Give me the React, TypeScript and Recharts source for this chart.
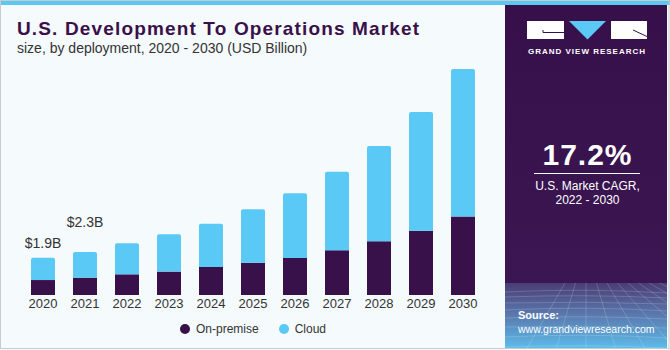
import React from 'react';
import { BarChart, Bar, XAxis, YAxis, LabelList, Legend } from 'recharts';

const years = ['2020', '2021', '2022', '2023', '2024', '2025', '2026', '2027', '2028', '2029', '2030'];
const onPremise = [0.76, 0.88, 1.05, 1.19, 1.43, 1.64, 1.88, 2.28, 2.73, 3.27, 3.99];
const cloud = [1.14, 1.31, 1.58, 1.9, 2.19, 2.72, 3.29, 3.99, 4.85, 6.04, 7.5];
const totalLabels = ['$1.9B', '$2.3B', '', '', '', '', '', '', '', '', ''];
const seriesNames = ['On-premise', 'Cloud'];

const FONT = '"Liberation Sans", Arial, sans-serif';
const DARK = '#38104A';
const LIGHT = '#5BC9F6';

const data = years.map((y, i) => ({
  year: y,
  onPremise: onPremise[i],
  cloud: cloud[i],
  label: totalLabels[i],
}));

const TotalLabel = (props: any) => {
  const { x, y, width, index, value } = props;
  if (!value) return null;
  const lift = index === 1 ? 25 : 10;
  return (
    <text x={x + width / 2} y={y - lift} textAnchor="middle" fontSize={14} fontFamily={FONT} fill="#333">
      {value}
    </text>
  );
};

const LegendContent = (props: any) => {
  const items = [...(props.payload || [])].sort(
    (a: any, b: any) => seriesNames.indexOf(a.value) - seriesNames.indexOf(b.value)
  );
  return (
    <div style={{ display: 'flex', justifyContent: 'center', alignItems: 'center', fontFamily: FONT, fontSize: 12, color: '#333' }}>
      {items.map((p: any, i: number) => (
        <div key={i} style={{ display: 'flex', alignItems: 'center', marginLeft: i === 0 ? 0 : 20 }}>
          <svg width={10} height={10} style={{ marginRight: 6 }}>
            <circle cx={5} cy={5} r={5} fill={p.color} />
          </svg>
          <span>{p.value}</span>
        </div>
      ))}
    </div>
  );
};

const gridH = [292, 297, 303, 310, 318, 327, 337, 347];
const gridV = [-60, -30, 0, 30, 60, 90, 120, 150, 180, 210, 240];

export default function App() {
  return (
    <div style={{ position: 'absolute', left: 0, top: 0, width: 670, height: 350, overflow: 'hidden' }}>
      <svg width={670} height={350} style={{ position: 'absolute', left: 0, top: 0 }}>
        <defs>
          <linearGradient id="panelG" x1="0" y1="0" x2="0" y2="1">
            <stop offset="0" stopColor="#37104A" />
            <stop offset="0.8" stopColor="#3A1652" />
            <stop offset="1" stopColor="#3E215B" />
          </linearGradient>
          <linearGradient id="texG" x1="0" y1="0" x2="0" y2="1">
            <stop offset="0" stopColor="#4A3D74" />
            <stop offset="0.5" stopColor="#5A7BB0" />
            <stop offset="1" stopColor="#5CBDEB" />
          </linearGradient>
          <clipPath id="texClip">
            <rect x={505} y={283} width={162} height={66} />
          </clipPath>
        </defs>
        <rect x={0} y={0} width={670} height={350} fill="#F5FAFD" />
        <rect x={0} y={0} width={670} height={5} fill="#5BC8F4" />
        <rect x={505} y={5} width={162} height={344} fill="url(#panelG)" />
        <rect x={505} y={283} width={162} height={66} fill="url(#texG)" />
        <g clipPath="url(#texClip)" stroke="#FFFFFF" strokeOpacity={0.22} strokeWidth={0.8} fill="none">
          {gridH.map((y, i) => (
            <path key={'h' + i} d={`M505 ${y} Q586 ${y - 4 + (i % 3)} 667 ${y + 1}`} />
          ))}
          {gridV.map((dx, i) => (
            <line key={'v' + i} x1={586 + dx * 0.35} y1={283} x2={586 + dx} y2={350} />
          ))}
        </g>
        {/* logo */}
        <rect x={527} y={21} width={37} height={18} fill="#FFFFFF" />
        <path d="M543 30 L543 32.5 L564 32.5" stroke={DARK} strokeWidth={1} fill="none" />
        <polygon points="569,21 606,21 587.5,39.5" fill="#5BC8F5" />
        <rect x={611} y={21} width={36} height={18} fill="#FFFFFF" />
        <path d="M633 30 L647 36.5" stroke={DARK} strokeWidth={1} fill="none" />
        <text x={587} y={54} textAnchor="middle" fill="#FFFFFF" fontSize={8} fontWeight="bold" letterSpacing={1} fontFamily={FONT}>
          GRAND VIEW RESEARCH
        </text>
        <text x={587.5} y={165} textAnchor="middle" fill="#FFFFFF" fontSize={30} fontWeight="bold" letterSpacing={1} fontFamily={FONT}>
          17.2%
        </text>
        <line x1={534} y1={173.5} x2={640} y2={173.5} stroke="#FFFFFF" strokeWidth={1} />
        <text x={587.5} y={189.5} textAnchor="middle" fill="#FFFFFF" fontSize={12} fontFamily={FONT}>
          U.S. Market CAGR,
        </text>
        <text x={587.5} y={203.5} textAnchor="middle" fill="#FFFFFF" fontSize={12} fontFamily={FONT}>
          2022 - 2030
        </text>
        <text x={518} y={319} fill="#FFFFFF" fontSize={11} fontWeight="bold" fontFamily={FONT}>
          Source:
        </text>
        <text x={518} y={333} fill="#FFFFFF" fontSize={10.5} fontFamily={FONT}>
          www.grandviewresearch.com
        </text>
        {/* titles */}
        <text x={17} y={35} fill="#3A1049" fontSize={19} fontWeight="bold" letterSpacing={1.15} fontFamily={FONT}>
          U.S. Development To Operations Market
        </text>
        <text x={17} y={53} fill="#333333" fontSize={14} fontFamily={FONT}>
          size, by deployment, 2020 - 2030 (USD Billion)
        </text>
        <rect x={0.5} y={0.5} width={668.5} height={348} fill="none" stroke="#C8CCCF" strokeWidth={1} />
      </svg>
      <div style={{ position: 'absolute', left: 0, top: 0 }}>
        <BarChart width={500} height={350} data={data} margin={{ top: 59, right: 16, left: 22, bottom: 35 }} barSize={24}>
          <XAxis
            dataKey="year"
            height={20}
            axisLine={false}
            tickLine={false}
            tickSize={0}
            tickMargin={4}
            interval={0}
            tick={{ fill: '#333', fontSize: 13, fontFamily: FONT }}
          />
          <YAxis hide domain={[0, 12]} />
          <Legend
            verticalAlign="middle"
            align="center"
            layout="horizontal"
            wrapperStyle={{ top: 322, left: 22, width: 462 }}
            content={<LegendContent />}
          />
          <Bar dataKey="onPremise" name={seriesNames[0]} stackId="a" fill={DARK} isAnimationActive={false} />
          <Bar dataKey="cloud" name={seriesNames[1]} stackId="a" fill={LIGHT} radius={[2, 2, 0, 0]} isAnimationActive={false}>
            <LabelList dataKey="label" content={<TotalLabel />} />
          </Bar>
        </BarChart>
      </div>
    </div>
  );
}
